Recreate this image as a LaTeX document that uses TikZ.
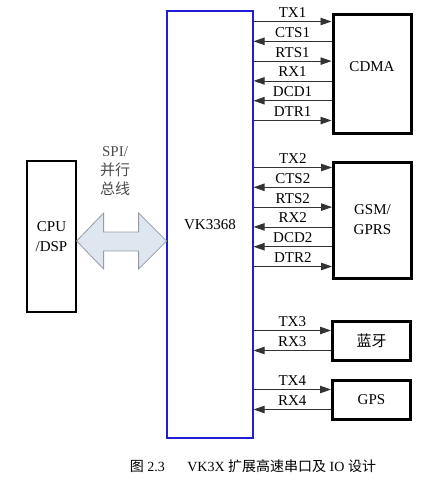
\documentclass[tikz,border=0pt]{standalone}
\usepackage{fontspec}
\setmainfont{Liberation Serif}
\newfontfamily\cjk{Noto Sans CJK SC}
\usetikzlibrary{arrows.meta}
\definecolor{chipblue}{RGB}{30,30,215}
\definecolor{busfill}{RGB}{222,230,240}
\definecolor{busline}{RGB}{150,155,165}

\begin{document}
\begin{tikzpicture}[x=1pt,y=-1pt]

        \tikzstyle{chipnode} = [draw=chipblue, line width=1.2pt, minimum width=86pt, minimum height=427pt, inner sep=0, font=\fontsize{15}{18}\selectfont];
        \tikzstyle{hostnode} = [draw, line width=1.2pt, minimum width=49pt, minimum height=151pt, inner sep=0, align=center, font=\fontsize{15}{20}\selectfont];
        \tikzstyle{devnode} = [draw, line width=3pt, minimum width=78pt, inner sep=0, align=center, font=\fontsize{15}{20}\selectfont];
        \tikzstyle{arrow} = [line width=0.8pt, draw=black!80, -{Triangle[length=11pt,width=7.5pt]}];
        \tikzstyle{siglabel} = [anchor=base, yshift=4pt, inner sep=0, font=\fontsize{15}{18}\selectfont];
        \tikzstyle{busarrow} = [fill=busfill, draw=busline, line width=0.8pt];

        \useasboundingbox (0,0) rectangle (425,488);

        \node[chipnode] (VK) at (210,224.5) {VK3368};
        \node[hostnode] (CPU) at (51.5,236.5) {CPU\\/DSP};

        \node[devnode, minimum height=119pt, text depth=14pt] (CDMA) at (372,73.5) {CDMA};
        \node[devnode, minimum height=116pt] (GSM) at (372.5,220) {GSM/\\GPRS};
        \node[devnode, minimum height=39pt] (BT) at (371.5,340.5) {\cjk 蓝牙};
        \node[devnode, minimum height=39pt] (GPS) at (371.5,399.5) {GPS};

        \node[align=center, text=black!70, font=\fontsize{15}{19}\selectfont] (BUS) at (115,171) {SPI/\\{\cjk 并行}\\{\cjk 总线}};

        \coordinate (BUSL) at (CPU.east |- 0,241);
        \filldraw[busarrow] (BUSL) -- ++(27,-28) -- ++(0,19) -- ++(35,0) -- ++(0,-19) -- ++(28,28)
            -- ++(-28,28) -- ++(0,-18) -- ++(-35,0) -- ++(0,18) -- cycle;


        \coordinate (TX1) at ([yshift=-9pt]CDMA.north west);
        \coordinate (CTS1) at ([yshift=-19.8pt]TX1);
        \coordinate (RTS1) at ([yshift=-19.8pt]CTS1);
        \coordinate (RX1) at ([yshift=-19.8pt]RTS1);
        \coordinate (DCD1) at ([yshift=-19.8pt]RX1);
        \coordinate (DTR1) at ([yshift=-19.8pt]DCD1);

        \draw [arrow] (VK.east |- TX1) -- node[siglabel] {TX1} (TX1);
        \draw [arrow] (CTS1) -- node[siglabel] {CTS1} (VK.east |- CTS1);
        \draw [arrow] (VK.east |- RTS1) -- node[siglabel] {RTS1} (RTS1);
        \draw [arrow] (RX1) -- node[siglabel] {RX1} (VK.east |- RX1);
        \draw [arrow] (DCD1) -- node[siglabel] {DCD1} (VK.east |- DCD1);
        \draw [arrow] (VK.east |- DTR1) -- node[siglabel] {DTR1} (DTR1);


        \coordinate (TX2) at ([yshift=-7pt]GSM.north west);
        \coordinate (CTS2) at ([yshift=-19.8pt]TX2);
        \coordinate (RTS2) at ([yshift=-19.8pt]CTS2);
        \coordinate (RX2) at ([yshift=-19.8pt]RTS2);
        \coordinate (DCD2) at ([yshift=-19.8pt]RX2);
        \coordinate (DTR2) at ([yshift=-19.8pt]DCD2);

        \draw [arrow] (VK.east |- TX2) -- node[siglabel] {TX2} (TX2);
        \draw [arrow] (CTS2) -- node[siglabel] {CTS2} (VK.east |- CTS2);
        \draw [arrow] (VK.east |- RTS2) -- node[siglabel] {RTS2} (RTS2);
        \draw [arrow] (RX2) -- node[siglabel] {RX2} (VK.east |- RX2);
        \draw [arrow] (DCD2) -- node[siglabel] {DCD2} (VK.east |- DCD2);
        \draw [arrow] (VK.east |- DTR2) -- node[siglabel] {DTR2} (DTR2);


        \coordinate (TX3) at ([yshift=-11pt]BT.north west);
        \coordinate (RX3) at ([yshift=-20pt]TX3);
        \draw [arrow] (VK.east |- TX3) -- node[siglabel] {TX3} (TX3);
        \draw [arrow] (RX3) -- node[siglabel] {RX3} (VK.east |- RX3);

        \coordinate (TX4) at ([yshift=-11pt]GPS.north west);
        \coordinate (RX4) at ([yshift=-20pt]TX4);
        \draw [arrow] (VK.east |- TX4) -- node[siglabel] {TX4} (TX4);
        \draw [arrow] (RX4) -- node[siglabel] {RX4} (VK.east |- RX4);


        \node[font=\fontsize{14}{16}\selectfont] (CAP) at (253,466) {{\cjk 图} 2.3\hspace{1.6em}VK3X {\cjk 扩展高速串口及} IO {\cjk 设计}};

    \end{tikzpicture}
\end{document}
